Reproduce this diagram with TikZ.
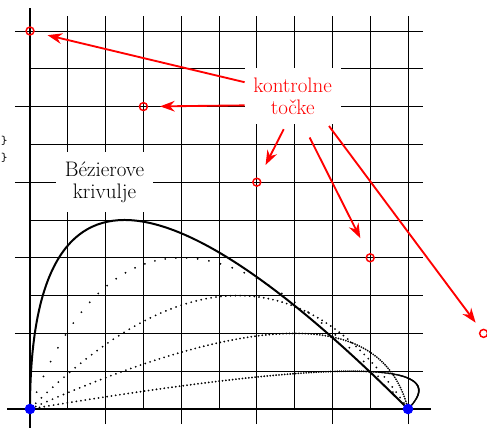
\documentclass[tikz,border=0pt]{standalone}
\usetikzlibrary{arrows.meta}
\tikzset{
  gridline/.style={line width=0.5pt, black},
  axisline/.style={line width=1.6pt, black},
  lbl/.style={fill=white, align=center, font=\fontsize{15.8}{16.3}\selectfont, inner xsep=6.5pt, inner ysep=7.5pt},
  cpt/.style={circle, draw=red, line width=1.1pt, minimum size=0.21cm, inner sep=0pt},
  redarrow/.style={red, line width=1.4pt, -{Stealth[length=11pt,width=8pt]}},
  solidcurve/.style={line width=1.5pt, black},
  dotcurve/.style={only marks, mark=*, mark size=0.6pt, mark options={line width=0.1pt, black}},
  stray/.style={font=\ttfamily\small, inner sep=0pt}
}
\begin{document}
\begin{tikzpicture}
\useasboundingbox (-0.794,-0.503) rectangle (12.09,10.82);
% grid
\draw[gridline] (0,0) grid[step=1] (10.4,10.4);
\draw[gridline] (-0.4,-0.4) grid[step=2] (10.4,10.4);
% axes
\draw[axisline] (-0.6,0) -- (10.6,0);
\draw[axisline] (0,-0.6) -- (0,10.6);
% stray characters
\node[stray] (s1) at (-0.68,7.1) {\}};
\node[stray] (s2) at (-0.68,6.64) {\}};
% labels
\node[lbl] (bez) at (1.97,6.0) {Bézierove\\krivulje};
\node[lbl, text=red] (kt) at (6.95,8.28) {kontrolne\\točke};
% end points
\coordinate (O) at (0,0);
\coordinate (E) at (10,0);
% curves
\draw[solidcurve] (O) .. controls (0,6.6667) and (3.3333,6.6667) .. (E);
\draw plot[dotcurve, domain=0:1, samples=36] ({2*\x*(1-\x)*3+\x*\x*10},{2*\x*(1-\x)*8});
\draw plot[dotcurve, domain=0:1, samples=80] ({2*\x*(1-\x)*6+\x*\x*10},{2*\x*(1-\x)*6});
\draw plot[dotcurve, domain=0:1, samples=120] ({2*\x*(1-\x)*9+\x*\x*10},{2*\x*(1-\x)*4});
\draw plot[dotcurve, domain=0:1, samples=190] ({2*\x*(1-\x)*12+\x*\x*10},{2*\x*(1-\x)*2});
% control points
\node[cpt] (c1) at (0,10) {};
\node[cpt] (c2) at (3,8) {};
\node[cpt] (c3) at (6,6) {};
\node[cpt] (c4) at (9,4) {};
\node[cpt] (c5) at (12,2) {};
% arrows
\draw[redarrow, shorten >=10pt] (kt.164) -- (c1);
\draw[redarrow, shorten >=9pt] (kt.191) -- (c2);
\draw[redarrow, shorten <=4pt, shorten >=11pt] (kt.257) -- (c3);
\draw[redarrow, shorten <=11pt, shorten >=13pt] (kt.290) -- (c4);
\draw[redarrow, shorten <=1.5pt, shorten >=6.5pt] (kt.321) -- (c5);
% blue end points
\fill[blue] (O) circle (0.14);
\fill[blue] (E) circle (0.14);
\end{tikzpicture}
\end{document}
